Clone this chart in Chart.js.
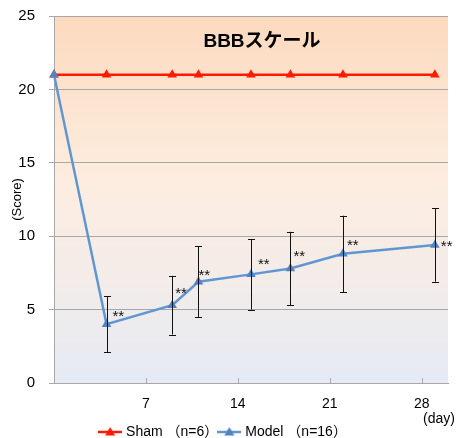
<!DOCTYPE html>
<html>
<head>
<meta charset="utf-8">
<script src="https://cdn.jsdelivr.net/npm/chart.js@4"></script>
<style>
  html, body { margin: 0; padding: 0; background: #fff; }
  #wrap { width: 459px; height: 438px; }
</style>
</head>
<body>
<div id="wrap"><canvas id="chart" width="459" height="438"></canvas></div>
<script>
// 資料
const days = [0, 4, 9, 11, 15, 18, 22, 29];
const shamScore = [21, 21, 21, 21, 21, 21, 21, 21];
const modelScore = [21, 4.0, 5.3, 6.9, 7.4, 7.8, 8.8, 9.4];
const modelErr = [0, 1.9, 2.0, 2.4, 2.4, 2.5, 2.6, 2.5];
const modelMark = ["", "**", "**", "**", "**", "**", "**", "**"];
const xTicks = [7, 14, 21, 28];
const yTicks = [0, 5, 10, 15, 20, 25];

const FONT = "'Liberation Sans', 'Noto Sans CJK JP', sans-serif";
const RED = "#ff1a00";
const BLUE = "#6097d2";
const BLUE_PT = "#4f83c2";
const GRID = "#a8a8a8";

// 圖例圖示（線 + 三角形）
function legendIcon(color, ptColor) {
    const c = document.createElement("canvas");
    c.width = 24;
    c.height = 12;
    const g = c.getContext("2d");
    g.strokeStyle = color;
    g.lineWidth = 2.5;
    g.beginPath();
    g.moveTo(0, 6);
    g.lineTo(24, 6);
    g.stroke();
    g.fillStyle = ptColor;
    g.beginPath();
    g.moveTo(12, 1);
    g.lineTo(17, 9.5);
    g.lineTo(7, 9.5);
    g.closePath();
    g.fill();
    return c;
}

const bgPlugin = {
    id: "bg",
    afterLayout(chart) {
        // 圖例往下移
        if (chart.legend) {
            chart.legend.top += 11;
            chart.legend.bottom += 11;
        }
    },
    beforeDraw(chart) {
        const { ctx, chartArea: a } = chart;
        const grad = ctx.createLinearGradient(0, a.top, 0, a.bottom);
        grad.addColorStop(0, "#fcdabe");
        grad.addColorStop(0.45, "#fdede0");
        grad.addColorStop(0.75, "#f2ecea");
        grad.addColorStop(1, "#e5eaf5");
        ctx.save();
        ctx.fillStyle = grad;
        ctx.fillRect(a.left, a.top, a.right - a.left, a.bottom - a.top);
        ctx.restore();
    },
};

const markOffsets = [[0, 0], [6, -10], [3, -14], [0, -9], [7, -13], [3, -15], [4, -11], [6, -1]];

const extrasPlugin = {
    id: "extras",
    afterDatasetsDraw(chart) {
        const { ctx, chartArea: a, scales } = chart;
        const x = scales.x, y = scales.y;
        ctx.save();

        // 誤差線
        ctx.strokeStyle = "#111";
        ctx.lineWidth = 1;
        days.forEach((d, i) => {
            if (!modelErr[i]) return;
            const px = Math.round(x.getPixelForValue(d)) + 0.5;
            const top = y.getPixelForValue(modelScore[i] + modelErr[i]);
            const bot = y.getPixelForValue(modelScore[i] - modelErr[i]);
            ctx.beginPath();
            ctx.moveTo(px, top);
            ctx.lineTo(px, bot);
            ctx.moveTo(px - 3.5, Math.round(top) + 0.5);
            ctx.lineTo(px + 3.5, Math.round(top) + 0.5);
            ctx.moveTo(px - 3.5, Math.round(bot) + 0.5);
            ctx.lineTo(px + 3.5, Math.round(bot) + 0.5);
            ctx.stroke();
        });

        // 顯著性標記
        ctx.fillStyle = "#111";
        ctx.font = "15px " + FONT;
        ctx.textAlign = "left";
        ctx.textBaseline = "middle";
        days.forEach((d, i) => {
            if (!modelMark[i]) return;
            const px = x.getPixelForValue(d) + markOffsets[i][0];
            const py = y.getPixelForValue(modelScore[i]) + markOffsets[i][1] + 3;
            ctx.fillText(modelMark[i], px, py);
        });

        // X 軸內側刻度
        ctx.strokeStyle = GRID;
        ctx.beginPath();
        xTicks.forEach((v) => {
            const px = Math.round(x.getPixelForValue(v)) + 0.5;
            ctx.moveTo(px, a.bottom);
            ctx.lineTo(px, a.bottom - 5);
        });
        ctx.stroke();

        // 標題
        ctx.fillStyle = "#000";
        ctx.font = "bold 19px " + FONT;
        ctx.textAlign = "center";
        ctx.fillText("BBBスケール", 262, 42);

        // (day)
        ctx.font = "14px " + FONT;
        ctx.textAlign = "left";
        ctx.fillText("(day)", 423, a.bottom + 36);
        ctx.restore();
    },
};

const ctx = document.getElementById("chart").getContext("2d");
new Chart(ctx, {
    type: "line",
    data: {
        datasets: [
            {
                label: "Sham （n=6）",
                data: days.map((d, i) => ({ x: d, y: shamScore[i] })),
                borderColor: RED,
                backgroundColor: RED,
                borderWidth: 2.5,
                pointStyle: "triangle",
                pointRadius: 5.5,
                pointBorderWidth: 0,
                clip: false,
                order: 1,
            },
            {
                label: "Model （n=16）",
                data: days.map((d, i) => ({ x: d, y: modelScore[i] })),
                borderColor: BLUE,
                backgroundColor: BLUE_PT,
                pointBackgroundColor: BLUE_PT,
                borderWidth: 2.5,
                pointStyle: "triangle",
                pointRadius: 5.5,
                pointBorderWidth: 0,
                clip: false,
                order: 0,
            },
        ],
    },
    options: {
        responsive: false,
        animation: false,
        layout: { padding: { left: 0, right: 11, top: 16, bottom: 0 } },
        scales: {
            x: {
                type: "linear",
                min: 0,
                max: 30,
                afterBuildTicks: (s) => { s.ticks = xTicks.map((v) => ({ value: v })); },
                afterFit: (s) => { s.height = 29; s.paddingLeft = 0; s.paddingRight = 0; },
                grid: { display: false, drawTicks: false },
                border: { display: true, color: GRID, width: 1 },
                ticks: { color: "#000", font: { family: FONT, size: 14 }, padding: 13, maxRotation: 0 },
            },
            y: {
                min: 0,
                max: 25,
                afterBuildTicks: (s) => { s.ticks = yTicks.map((v) => ({ value: v })); },
                afterFit: (s) => { s.width = 54; s.paddingTop = 0; s.paddingBottom = 0; },
                grid: { color: GRID, tickLength: 5, drawTicks: true },
                border: { display: true, color: GRID, width: 1 },
                ticks: { color: "#000", font: { family: FONT, size: 15 }, padding: 14 },
                title: {
                    display: true,
                    text: "(Score)",
                    color: "#000",
                    font: { family: FONT, size: 13 },
                    padding: { top: 10, bottom: 0 },
                },
            },
        },
        plugins: {
            legend: {
                position: "bottom",
                labels: {
                    usePointStyle: true,
                    pointStyleWidth: 18,
                    padding: 2,
                    color: "#000",
                    font: { family: FONT, size: 14 },
                    generateLabels: (chart) => chart.data.datasets.map((ds, i) => ({
                        text: ds.label,
                        pointStyle: i === 0 ? legendIcon(RED, RED) : legendIcon(BLUE, BLUE_PT),
                        fillStyle: ds.borderColor,
                        strokeStyle: ds.borderColor,
                        lineWidth: 0,
                        fontColor: "#000",
                        datasetIndex: i,
                    })),
                },
            },
            tooltip: { enabled: false },
        },
    },
    plugins: [bgPlugin, extrasPlugin],
});
</script>
</body>
</html>
